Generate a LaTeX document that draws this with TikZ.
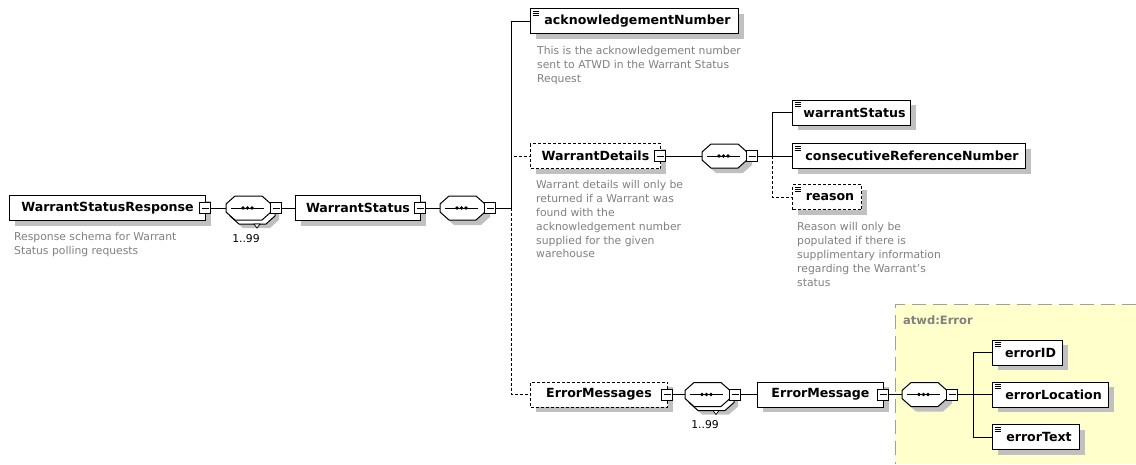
\documentclass[tikz,border=0pt]{standalone}
\usepackage{fontspec}
\setmainfont{DejaVu Sans}
\usetikzlibrary{shadows}
\definecolor{shadowgray}{RGB}{192,192,192}
\definecolor{desc}{RGB}{128,128,128}
\definecolor{zone}{RGB}{255,255,204}
\definecolor{zoneline}{RGB}{160,160,160}
\tikzset{
  oct/.pic={\path[pic actions] (0,-4) -- (9,-12) -- (36,-12) -- (45,-4) -- (45,4) -- (36,12) -- (9,12) -- (0,4) -- cycle;},
  elem/.style={draw=black, fill=white, line width=1pt, minimum height=25, inner sep=0, anchor=west,
    font=\fontsize{12.6}{14}\selectfont\bfseries,
    drop shadow={shadow xshift=5pt, shadow yshift=-5pt, fill=shadowgray, opacity=1}},
  optional/.style={dash pattern=on 3pt off 2pt},
  leaf/.style={execute at begin node={\hspace*{6pt}},
    path picture={\foreach \k in {2.5,4.5,6.5}
      \draw[solid, line width=0.7pt] ([shift={(2pt,-\k pt)}]path picture bounding box.north west) -- ++(6pt,0);}},
  minus/.style={draw=black, fill=white, line width=1pt, minimum size=11, inner sep=0, solid,
    path picture={\draw[solid, line width=1pt] ([xshift=2pt]path picture bounding box.west) -- ([xshift=-2pt]path picture bounding box.east);}},
  conn/.style={line width=1pt, draw=black},
  note/.style={anchor=north west, inner sep=0, align=left, text=desc, font=\fontsize{10.8}{13.9}\selectfont},
  occurs/.style={anchor=base, inner sep=0, font=\fontsize{10.8}{12}\selectfont},
}
\newcommand\seqc[4]{%
  \begin{scope}[shift={(#2,#3)}]
    \ifnum#4=1
      \pic[fill=shadowgray] at (8,8) {oct};
      \pic[fill=white, draw=black, line width=1pt] at (4,4) {oct};
      \draw[fill=white, line width=0.7pt] (28,16) -- (34,16) -- (31,20) -- cycle;
      \node[occurs] (#1r) at (20,34) {1..99};
    \else
      \pic[fill=shadowgray] at (5,5) {oct};
    \fi
    \pic[fill=white, draw=black, line width=1pt] at (0,0) {oct};
    \draw[line width=1pt] (5,0) -- (38,0);
    \foreach \d in {17,21.5,26} \fill (\d,0) circle (1.8);
    \node[minimum width=45, minimum height=24, inner sep=0, anchor=west] (#1) at (0,0) {};
    \node[minus] (#1m) at (50,0) {};
  \end{scope}}
\begin{document}
\begin{tikzpicture}[x=1pt,y=-1pt]
\useasboundingbox (0,0) rectangle (1136,464);
% schema zone
\fill[zone] (895,304) rectangle (1136,464);
\draw[zoneline, line width=1pt, dash pattern=on 14pt off 7pt] (1136,304) -- (895,304) -- (895,464);
\node[anchor=north west, inner sep=0, text=desc, font=\fontsize{11.5}{13}\selectfont\bfseries] (zt) at (903,316) {atwd:Error};

% root
\node[elem, minimum width=196] (wsr) at (9,208) {WarrantStatusResponse};
\node[minus] (wsrm) at ([xshift=-1pt]wsr.east) {};
\node[note] (wsrd) at (14,232) {Response schema for Warrant\\Status polling requests};
\seqc{s1}{226}{208}{1}
\node[elem, minimum width=125] (ws) at (295,208) {WarrantStatus};
\node[minus] (wsm) at ([xshift=-1pt]ws.east) {};
\seqc{s2}{440}{208}{0}
\coordinate (t1) at (511,208);

% children of WarrantStatus
\node[elem, leaf, minimum width=208] (ack) at (530,21) {acknowledgementNumber};
\node[note] (ackd) at (537,46) {This is the acknowledgement number\\sent to ATWD in the Warrant Status\\Request};
\node[elem, optional, minimum width=130] (wd) at (530,156) {WarrantDetails};
\node[minus] (wdm) at ([xshift=-1pt]wd.east) {};
\node[note] (wdd) at (536,180) {Warrant details will only be\\returned if a Warrant was\\found with the\\acknowledgement number\\supplied for the given\\warehouse};
\node[elem, optional, minimum width=137] (ems) at (530,394.5) {ErrorMessages};
\node[minus] (emsm) at ([xshift=-1pt]ems.east) {};

% WarrantDetails content
\seqc{s4}{702}{156}{0}
\coordinate (t2) at (772,156);
\node[elem, leaf, minimum width=118] (wst) at (792,112.5) {warrantStatus};
\node[elem, leaf, minimum width=233] (crn) at (792,156) {consecutiveReferenceNumber};
\node[elem, leaf, optional, minimum width=69] (rsn) at (792,197) {reason};
\node[note] (rsnd) at (797,222) {Reason will only be\\populated if there is\\supplimentary information\\regarding the Warrant's\\status};

% ErrorMessages content
\seqc{s3}{685}{394.5}{1}
\node[elem, minimum width=126] (emg) at (757,394.5) {ErrorMessage};
\node[minus] (emgm) at ([xshift=-1pt]emg.east) {};
\seqc{s5}{902}{394.5}{0}
\coordinate (t3) at (973,394.5);
\node[elem, leaf, minimum width=70] (eid) at (992,352.5) {errorID};
\node[elem, leaf, minimum width=116] (eloc) at (992,394.5) {errorLocation};
\node[elem, leaf, minimum width=87] (etxt) at (992,437) {errorText};

% connectors
\draw[conn] (wsrm.east) -- (s1.west);
\draw[conn] (s1m.east) -- (ws.west);
\draw[conn] (wsm.east) -- (s2.west);
\draw[conn] (s2m.east) -- (t1);
\draw[conn] (t1) |- (ack.west);
\draw[conn, optional] (t1) |- (wd.west);
\draw[conn, optional] (t1) |- (ems.west);
\draw[conn] (wdm.east) -- (s4.west);
\draw[conn] (s4m.east) -- (t2);
\draw[conn] (t2) |- (wst.west);
\draw[conn] (t2) -- (crn.west);
\draw[conn, optional] (t2) |- (rsn.west);
\draw[conn] (emsm.east) -- (s3.west);
\draw[conn] (s3m.east) -- (emg.west);
\draw[conn] (emgm.east) -- (s5.west);
\draw[conn] (s5m.east) -- (t3);
\draw[conn] (t3) |- (eid.west);
\draw[conn] (t3) -- (eloc.west);
\draw[conn] (t3) |- (etxt.west);
\end{tikzpicture}
\end{document}
